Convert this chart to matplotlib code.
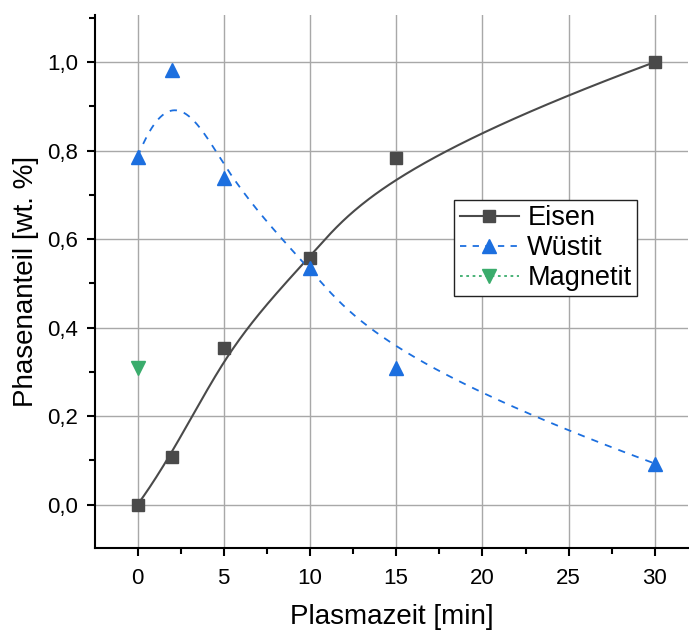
import numpy as np
import matplotlib
matplotlib.use("Agg")
import matplotlib.pyplot as plt
from matplotlib.ticker import MultipleLocator, FuncFormatter

plt.rcParams['font.family'] = ['Liberation Sans', 'DejaVu Sans']

zeit = [0, 2, 5, 10, 15, 30]
eisen = [0.0, 0.107, 0.354, 0.557, 0.783, 1.0]
wuestit = [0.785, 0.983, 0.738, 0.535, 0.309, 0.093]
magnetit_x = [0]
magnetit = [0.309]


def bspline(xs, ys, n=400, k=3):
    P = np.column_stack([xs, ys]).astype(float)
    m = len(P)
    inner = np.linspace(0, 1, m - k + 1)
    knots = np.concatenate([np.zeros(k), inner, np.ones(k)])
    ts = np.linspace(0, 1, n)
    out = []
    for t in ts:
        if t >= 1.0:
            out.append(P[-1]); continue
        s = np.searchsorted(knots, t, side='right') - 1
        d = [P[j + s - k].copy() for j in range(k + 1)]
        for r in range(1, k + 1):
            for j in range(k, r - 1, -1):
                i = j + s - k
                a = (t - knots[i]) / (knots[i + k + 1 - r] - knots[i])
                d[j] = (1 - a) * d[j - 1] + a * d[j]
        out.append(d[k])
    out = np.array(out)
    return out[:, 0], out[:, 1]


fig = plt.figure(figsize=(6.89, 6.3), dpi=100)
ax = fig.add_axes([0.138, 0.130, 0.86, 0.846])

c_e = '#4a4a4a'
c_w = '#1c6fdf'
c_m = '#3aac6c'

ex, ey = bspline(zeit, eisen)
wx, wy = bspline(zeit, wuestit)
ax.plot(ex, ey, color=c_e, lw=1.5, zorder=3)
ax.plot(wx, wy, color=c_w, lw=1.3, ls=(0, (4, 4)), zorder=3)
ax.plot(zeit, eisen, 's', color=c_e, ms=9, zorder=4)
ax.plot(zeit, wuestit, '^', color=c_w, ms=10, zorder=4)
ax.plot(magnetit_x, magnetit, 'v', color=c_m, ms=10, zorder=4)

h1, = ax.plot([], [], color=c_e, lw=1.5, marker='s', ms=9, label='Eisen')
h2, = ax.plot([], [], color=c_w, lw=1.3, ls=(0, (3.5, 3.5)), marker='^', ms=10, label='Wüstit')
h3, = ax.plot([], [], color=c_m, lw=1.3, ls=(0, (1.5, 2)), marker='v', ms=10, label='Magnetit')
leg = ax.legend(handles=[h1, h2, h3], loc='upper left', bbox_to_anchor=(0.606, 0.653),
                fontsize=19.5, frameon=True, fancybox=False, edgecolor='#222222',
                framealpha=1, borderpad=0.2, labelspacing=0.14, handlelength=2.2,
                handletextpad=0.3, borderaxespad=0)
leg.get_frame().set_linewidth(1.0)

ax.set_xlim(-2.46, 31.9)
ax.set_ylim(-0.098, 1.106)
ax.xaxis.set_major_locator(MultipleLocator(5))
ax.xaxis.set_minor_locator(MultipleLocator(2.5))
ax.yaxis.set_major_locator(MultipleLocator(0.2))
ax.yaxis.set_minor_locator(MultipleLocator(0.1))
ax.yaxis.set_major_formatter(FuncFormatter(lambda v, p: f"{v:.1f}".replace('.', ',').replace('-0,0', '0,0')))

ax.grid(True, which='major', color='#a8a8a8', lw=1.0, zorder=0)
ax.set_axisbelow(True)
for s in ['top', 'right']:
    ax.spines[s].set_visible(False)
for s in ['left', 'bottom']:
    ax.spines[s].set_linewidth(1.5)
ax.tick_params(which='major', direction='out', length=6, width=1.5, labelsize=16)
ax.tick_params(axis='x', which='major', pad=8)
ax.tick_params(axis='y', which='major', pad=6)
ax.tick_params(which='minor', direction='out', length=4, width=1.5)

ax.set_xlabel('Plasmazeit [min]', fontsize=20, labelpad=11)
ax.set_ylabel('Phasenanteil [wt. %]', fontsize=20, labelpad=6)

fig.savefig('out.png', dpi=100)
